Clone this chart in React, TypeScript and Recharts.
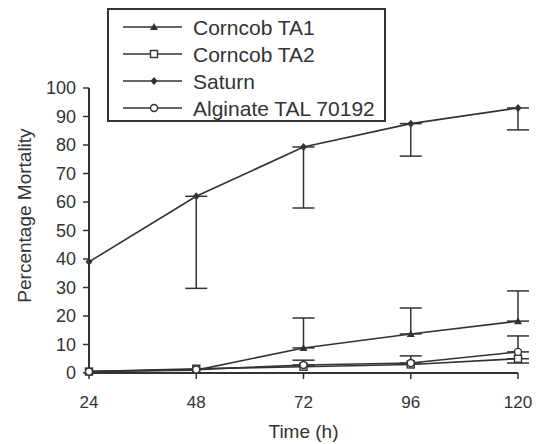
import { ComposedChart, Line, XAxis, YAxis, ErrorBar, Legend, Label } from 'recharts'

// time points (h)
const hours = [24, 48, 72, 96, 120]
const mortalityTicks = [0, 10, 20, 30, 40, 50, 60, 70, 80, 90, 100]

// mean % mortality per treatment
const corncobTA1 = [0.5, 1, 8.8, 13.7, 18.2]
const corncobTA2 = [0.5, 1.5, 2.2, 3, 5]
const saturn = [39, 62, 79.3, 87.5, 93]
const alginate = [0.5, 1.2, 2.8, 3.5, 7.4]

// one-sided error bars: [below, above]; null = none drawn
const corncobTA1Err = [null, null, [0, 10.5], [0, 9.1], [0, 10.6]]
const corncobTA2Err = [null, null, null, null, [1.5, 0]]
const saturnErr = [null, [32.3, 0], [21.4, 0], [11.4, 0], [7.7, 0]]
const alginateErr = [null, null, [0, 1.7], [0, 2.5], [0, 5.6]]

const ink = '#333'
const font = '"Liberation Sans", Arial, sans-serif'

const series = [
  { key: 'ta1', name: 'Corncob TA1', values: corncobTA1, err: corncobTA1Err, shape: 'triangle' },
  { key: 'ta2', name: 'Corncob TA2', values: corncobTA2, err: corncobTA2Err, shape: 'square' },
  { key: 'saturn', name: 'Saturn', values: saturn, err: saturnErr, shape: 'diamond' },
  { key: 'alg', name: 'Alginate TAL 70192', values: alginate, err: alginateErr, shape: 'circle' },
]

const data = hours.map((h, i) => {
  const row: any = { time: h }
  series.forEach((s) => {
    row[s.key] = s.values[i]
    row[s.key + 'Err'] = s.err[i] ?? undefined
  })
  return row
})

const Marker = ({ cx, cy, shape }: { cx: number; cy: number; shape: string }) => {
  if (cx == null || cy == null) return null
  if (shape === 'triangle')
    return <polygon points={`${cx},${cy - 4} ${cx - 4},${cy + 3} ${cx + 4},${cy + 3}`} fill={ink} />
  if (shape === 'square')
    return <rect x={cx - 3.5} y={cy - 3.5} width={7} height={7} fill="#fff" stroke={ink} strokeWidth={1.4} />
  if (shape === 'diamond')
    return <polygon points={`${cx},${cy - 4} ${cx + 3.5},${cy} ${cx},${cy + 4} ${cx - 3.5},${cy}`} fill={ink} />
  return <circle cx={cx} cy={cy} r={3.5} fill="#fff" stroke={ink} strokeWidth={1.4} />
}

const dotFor = (shape: string) => (p: any) => <Marker key={p.index} cx={p.cx} cy={p.cy} shape={shape} />

const LegendBox = () => (
  <svg width={275} height={110} style={{ display: 'block' }}>
    {series.map((s, i) => {
      const y = 17 + i * 27
      return (
        <g key={s.key}>
          <line x1={14} x2={73} y1={y} y2={y} stroke={ink} strokeWidth={1.5} />
          <Marker cx={45} cy={y} shape={s.shape} />
          <text x={84} y={y} dominantBaseline="central" fontSize={21} fill={ink} fontFamily={font}>
            {s.name}
          </text>
        </g>
      )
    })}
  </svg>
)

export default function App() {
  return (
    <div style={{ position: 'absolute', left: 0, top: 0, background: '#fff' }}>
      <ComposedChart
        width={543}
        height={444}
        data={data}
        margin={{ top: 88, right: 25, bottom: 0, left: 0 }}
        style={{ fontFamily: font }}
      >
        <XAxis
          dataKey="time"
          type="number"
          domain={[24, 120]}
          ticks={hours}
          height={71}
          tickSize={6}
          tickMargin={17}
          axisLine={{ stroke: ink, strokeWidth: 2 }}
          tickLine={{ stroke: ink, strokeWidth: 1.5 }}
          tick={{ fontSize: 17, fill: ink }}
        >
          <Label value="Time (h)" position="insideBottom" offset={6} style={{ fontSize: 19, fill: ink }} />
        </XAxis>
        <YAxis
          type="number"
          domain={[0, 100]}
          ticks={mortalityTicks}
          width={89}
          tickSize={6}
          tickMargin={7}
          axisLine={{ stroke: ink, strokeWidth: 2 }}
          tickLine={{ stroke: ink, strokeWidth: 1.5 }}
          tick={{ fontSize: 18, fill: ink }}
        >
          <Label
            content={(props: any) => {
              const vb = props.viewBox
              const x = vb.x + 24
              const y = vb.y + vb.height / 2 - 15
              return (
                <text
                  x={x}
                  y={y}
                  transform={`rotate(-90, ${x}, ${y})`}
                  textAnchor="middle"
                  dominantBaseline="central"
                  fontSize={19}
                  fill={ink}
                  fontFamily={font}
                >
                  Percentage Mortality
                </text>
              )
            }}
          />
        </YAxis>
        <Legend
          layout="vertical"
          align="center"
          verticalAlign="middle"
          content={() => <LegendBox />}
          wrapperStyle={{
            left: 107,
            top: 8,
            width: 279,
            height: 114,
            border: `2px solid ${ink}`,
            boxSizing: 'border-box',
            background: '#fff',
          }}
        />
        {series.map((s) => (
          <Line
            key={s.key}
            dataKey={s.key}
            name={s.name}
            stroke={ink}
            strokeWidth={1.6}
            dot={dotFor(s.shape)}
            activeDot={false}
            isAnimationActive={false}
            legendType="none"
          >
            <ErrorBar dataKey={s.key + 'Err'} width={11} stroke={ink} strokeWidth={1.5} direction="y" />
          </Line>
        ))}
      </ComposedChart>
    </div>
  )
}
